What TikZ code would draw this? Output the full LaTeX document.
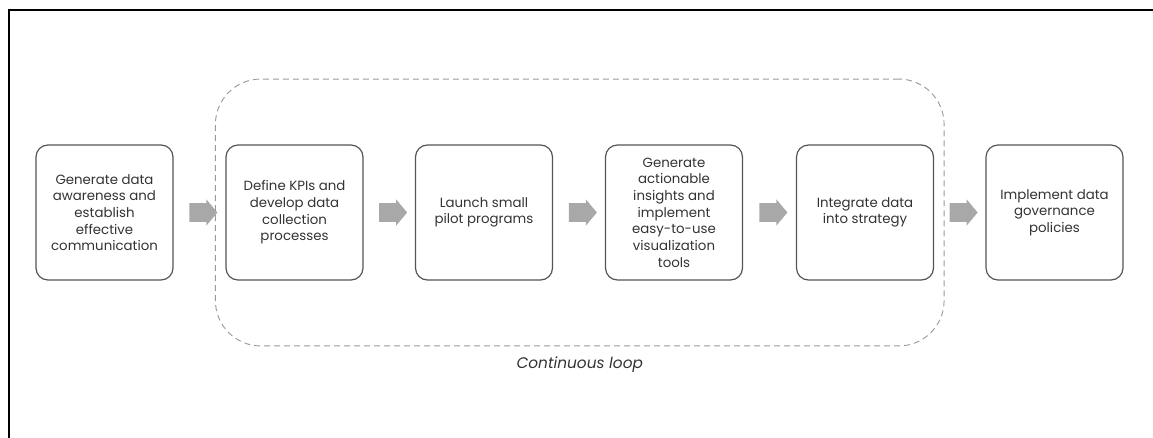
\documentclass[tikz,border=0pt]{standalone}
\usepackage{fontspec}
\setmainfont{Poppins}
\usetikzlibrary{shapes.arrows,fit,calc}
\definecolor{boxline}{HTML}{555555}
\definecolor{arrowgray}{HTML}{A8A8A8}
\definecolor{loopgray}{HTML}{9A9A9A}
\definecolor{txtgray}{HTML}{333333}

\begin{document}
\begin{tikzpicture}[x=0.75pt,y=-0.75pt,
    stage/.style={draw=boxline,line width=0.9pt,rounded corners=9pt,
      minimum width=102.75pt,minimum height=101.25pt,align=center,
      text=txtgray,font=\fontsize{10}{12.5}\selectfont},
    flowarrow/.style={single arrow,fill=arrowgray,draw=none,inner xsep=0pt,
      inner ysep=6.75pt,minimum height=21pt,single arrow head extend=3pt,
      single arrow tip angle=100},
    loopbox/.style={draw=loopgray,line width=0.7pt,dash pattern=on 4.5pt off 3pt,
      rounded corners=34pt,inner xsep=7.5pt,inner ysep=49pt}]
		\useasboundingbox (0,0) rectangle (1153,438);
		\draw [line width=1.5pt] (8.5,438)--(8.5,10)--(1153,10);% page frame
		
		\node[stage] (s1) at (104.5,212.5) {Generate data\\awareness and\\establish\\effective\\communication};
		\node[stage] (s2) at (294.5,212.5) {Define KPIs and\\develop data\\collection\\processes};
		\node[stage] (s3) at (484,212.5) {Launch small\\pilot programs};
		\node[stage] (s4) at (674,212.5) {Generate\\actionable\\insights and\\implement\\easy-to-use\\visualization\\tools};
		\node[stage] (s5) at (865,212.5) {Integrate data\\into strategy};
		\node[stage] (s6) at (1054.5,212.5) {Implement data\\governance\\policies};
		
		% grey block arrows halfway between the boxes
		\node[flowarrow] (a1) at ($(s1.east)!0.5!(s2.west)$) {};
		\node[flowarrow] (a2) at ($(s2.east)!0.5!(s3.west)$) {};
		\node[flowarrow] (a3) at ($(s3.east)!0.5!(s4.west)$) {};
		\node[flowarrow] (a4) at ($(s4.east)!0.5!(s5.west)$) {};
		\node[flowarrow] (a5) at ($(s5.east)!0.5!(s6.west)$) {};
		
		\node[loopbox,fit=(s2)(s5)] (loop) {};% dashed loop round the middle steps
		\node[text=txtgray,font=\fontsize{11.5}{13}\selectfont\itshape] (looplabel)
		  at ([yshift=-13.5pt]loop.south) {Continuous loop};
\end{tikzpicture}
\end{document}
